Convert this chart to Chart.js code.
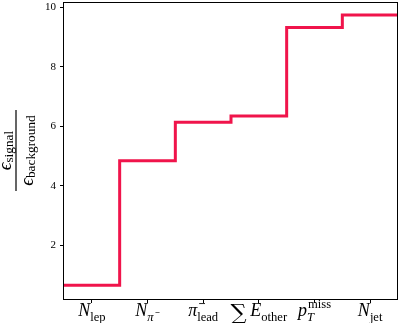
<!DOCTYPE html>
<html>
<head>
<meta charset="utf-8">
<script src="https://cdn.jsdelivr.net/npm/chart.js@4.4.1/dist/chart.umd.min.js"></script>
<style>
  body { margin: 0; background: #fff; }
  #wrap { width: 399px; height: 323px; }
</style>
</head>
<body>
<div id="wrap"><canvas id="myChart" width="399" height="323"></canvas></div>
<script>
// categories written tex-like: _{} subscript, ^{} superscript
const categories = ['N_{lep}', 'N_{π^{−}}', 'π^{−}_{lead}', '∑ E_{other}', 'p^{miss}_{T}', 'N_{jet}'];
const ratio = [0.66, 4.84, 6.13, 6.34, 9.31, 9.73];
const yTicks = [2, 4, 6, 8, 10];
const yLabelNum = 'ϵ_{signal}';
const yLabelDen = 'ϵ_{background}';

const FAM = '"Liberation Serif", "DejaVu Serif", serif';

// tiny parser for the label strings
function parseMath(s) {
  let atoms = [], i = 0;
  function group() {
    if (s[i] == '{') {
      let depth = 0, start = i + 1;
      for (; i < s.length; i++) {
        if (s[i] == '{') depth++;
        else if (s[i] == '}') { depth--; if (depth == 0) break; }
      }
      let inner = s.slice(start, i);
      i++;
      return parseMath(inner);
    }
    return parseMath(s[i++]);
  }
  while (i < s.length) {
    let c = s[i];
    if (c == '^') { i++; atoms[atoms.length - 1].sup = group(); }
    else if (c == '_') { i++; atoms[atoms.length - 1].sub = group(); }
    else { atoms.push({ base: c }); i++; }
  }
  return atoms;
}

function isWord(atoms) {
  return atoms.length > 1 && atoms.every(a => /[A-Za-z]/.test(a.base));
}

// draws (or only measures) a parsed label, returns its width
function renderMath(ctx, atoms, x, y, size, roman, draw, subDrop) {
  let x0 = x;
  for (let a of atoms) {
    if (a.base == ' ') { x += size * 0.2; continue; }
    let italic = /[A-Za-zπϵ]/.test(a.base) && !roman;
    let sz = size, dy = 0, fam = FAM, bold = '';
    if (a.base == '∑') { sz = size * 1.25; dy = size * 0.22; fam = '"DejaVu Serif", serif'; }
    if (a.base == '−') { bold = 'bold '; }
    ctx.font = (italic ? 'italic ' : '') + bold + sz + 'px ' + fam;
    let bw = ctx.measureText(a.base).width;
    if (draw) ctx.fillText(a.base, x, y + dy);
    let supW = 0, subW = 0;
    if (a.sup) supW = renderMath(ctx, a.sup, x + bw + (italic ? 1 : 0), y - size * 0.42, size * 0.7, isWord(a.sup), draw, subDrop);
    if (a.sub) subW = renderMath(ctx, a.sub, x + bw, y + size * (a.sup ? 0.3 : subDrop), size * 0.7, isWord(a.sub), draw, subDrop);
    x += bw + Math.max(supW + (a.sup && italic ? 1 : 0), subW);
  }
  return x - x0;
}

const steps = ratio.map((v, i) => ({ x: i - 0.5, y: v }));
steps.push({ x: ratio.length - 0.5, y: ratio[ratio.length - 1] });

const extras = {
  id: 'extras',
  afterDatasetsDraw(chart) {
    const ctx = chart.ctx, ca = chart.chartArea;
    ctx.save();
    ctx.strokeStyle = '#000';
    ctx.lineWidth = 1;
    ctx.strokeRect(ca.left - 0.5, ca.top + 0.5, ca.right - ca.left, ca.bottom - ca.top);
    ctx.restore();
  },
  afterDraw(chart) {
    const ctx = chart.ctx, xs = chart.scales.x;
    ctx.save();
    ctx.fillStyle = '#000';
    ctx.textAlign = 'left';
    ctx.textBaseline = 'alphabetic';
    categories.forEach((c, i) => {
      let atoms = parseMath(c);
      let w = renderMath(ctx, atoms, 0, 0, 18, false, false, 0.25);
      renderMath(ctx, atoms, xs.getPixelForValue(i) - w / 2, 316, 18, false, true, 0.25);
    });
    // y axis title, a fraction turned on its side
    ctx.translate(16, 150.5);
    ctx.rotate(-Math.PI / 2);
    ctx.fillRect(-40.5, -0.6, 81, 1.2);
    let num = parseMath(yLabelNum), den = parseMath(yLabelDen);
    let wn = renderMath(ctx, num, 0, 0, 19, false, false, 0.12);
    renderMath(ctx, num, -wn / 2, -5, 19, false, true, 0.12);
    let wd = renderMath(ctx, den, 0, 0, 19, false, false, 0.12);
    renderMath(ctx, den, -wd / 2, 17, 19, false, true, 0.12);
    ctx.restore();
  }
};

new Chart(document.getElementById('myChart'), {
  type: 'line',
  data: {
    datasets: [{
      data: steps,
      stepped: true,
      borderColor: '#f0144b',
      borderWidth: 3,
      pointRadius: 0,
      fill: false
    }]
  },
  options: {
    responsive: false,
    animation: false,
    layout: { padding: { top: 2, right: 1, left: 0, bottom: 0 } },
    plugins: { legend: { display: false }, tooltip: { enabled: false } },
    scales: {
      x: {
        type: 'linear',
        min: -0.5,
        max: ratio.length - 0.5,
        afterBuildTicks: s => { s.ticks = categories.map((c, i) => ({ value: i })); },
        afterFit: s => { s.height = 24; s.paddingLeft = 0; s.paddingRight = 0; },
        ticks: { callback: () => '', autoSkip: false, maxRotation: 0 },
        grid: { drawOnChartArea: false, tickLength: 4, color: '#000' },
        border: { display: false }
      },
      y: {
        min: 0.2,
        max: 10.17,
        afterBuildTicks: s => { s.ticks = yTicks.map(v => ({ value: v })); },
        afterFit: s => { s.width = 64; s.paddingTop = 0; s.paddingBottom = 0; },
        ticks: { color: '#000', padding: 4, font: { family: FAM, size: 11 } },
        grid: { drawOnChartArea: false, tickLength: 4, color: '#000' },
        border: { display: false }
      }
    }
  },
  plugins: [extras]
});
</script>
</body>
</html>
